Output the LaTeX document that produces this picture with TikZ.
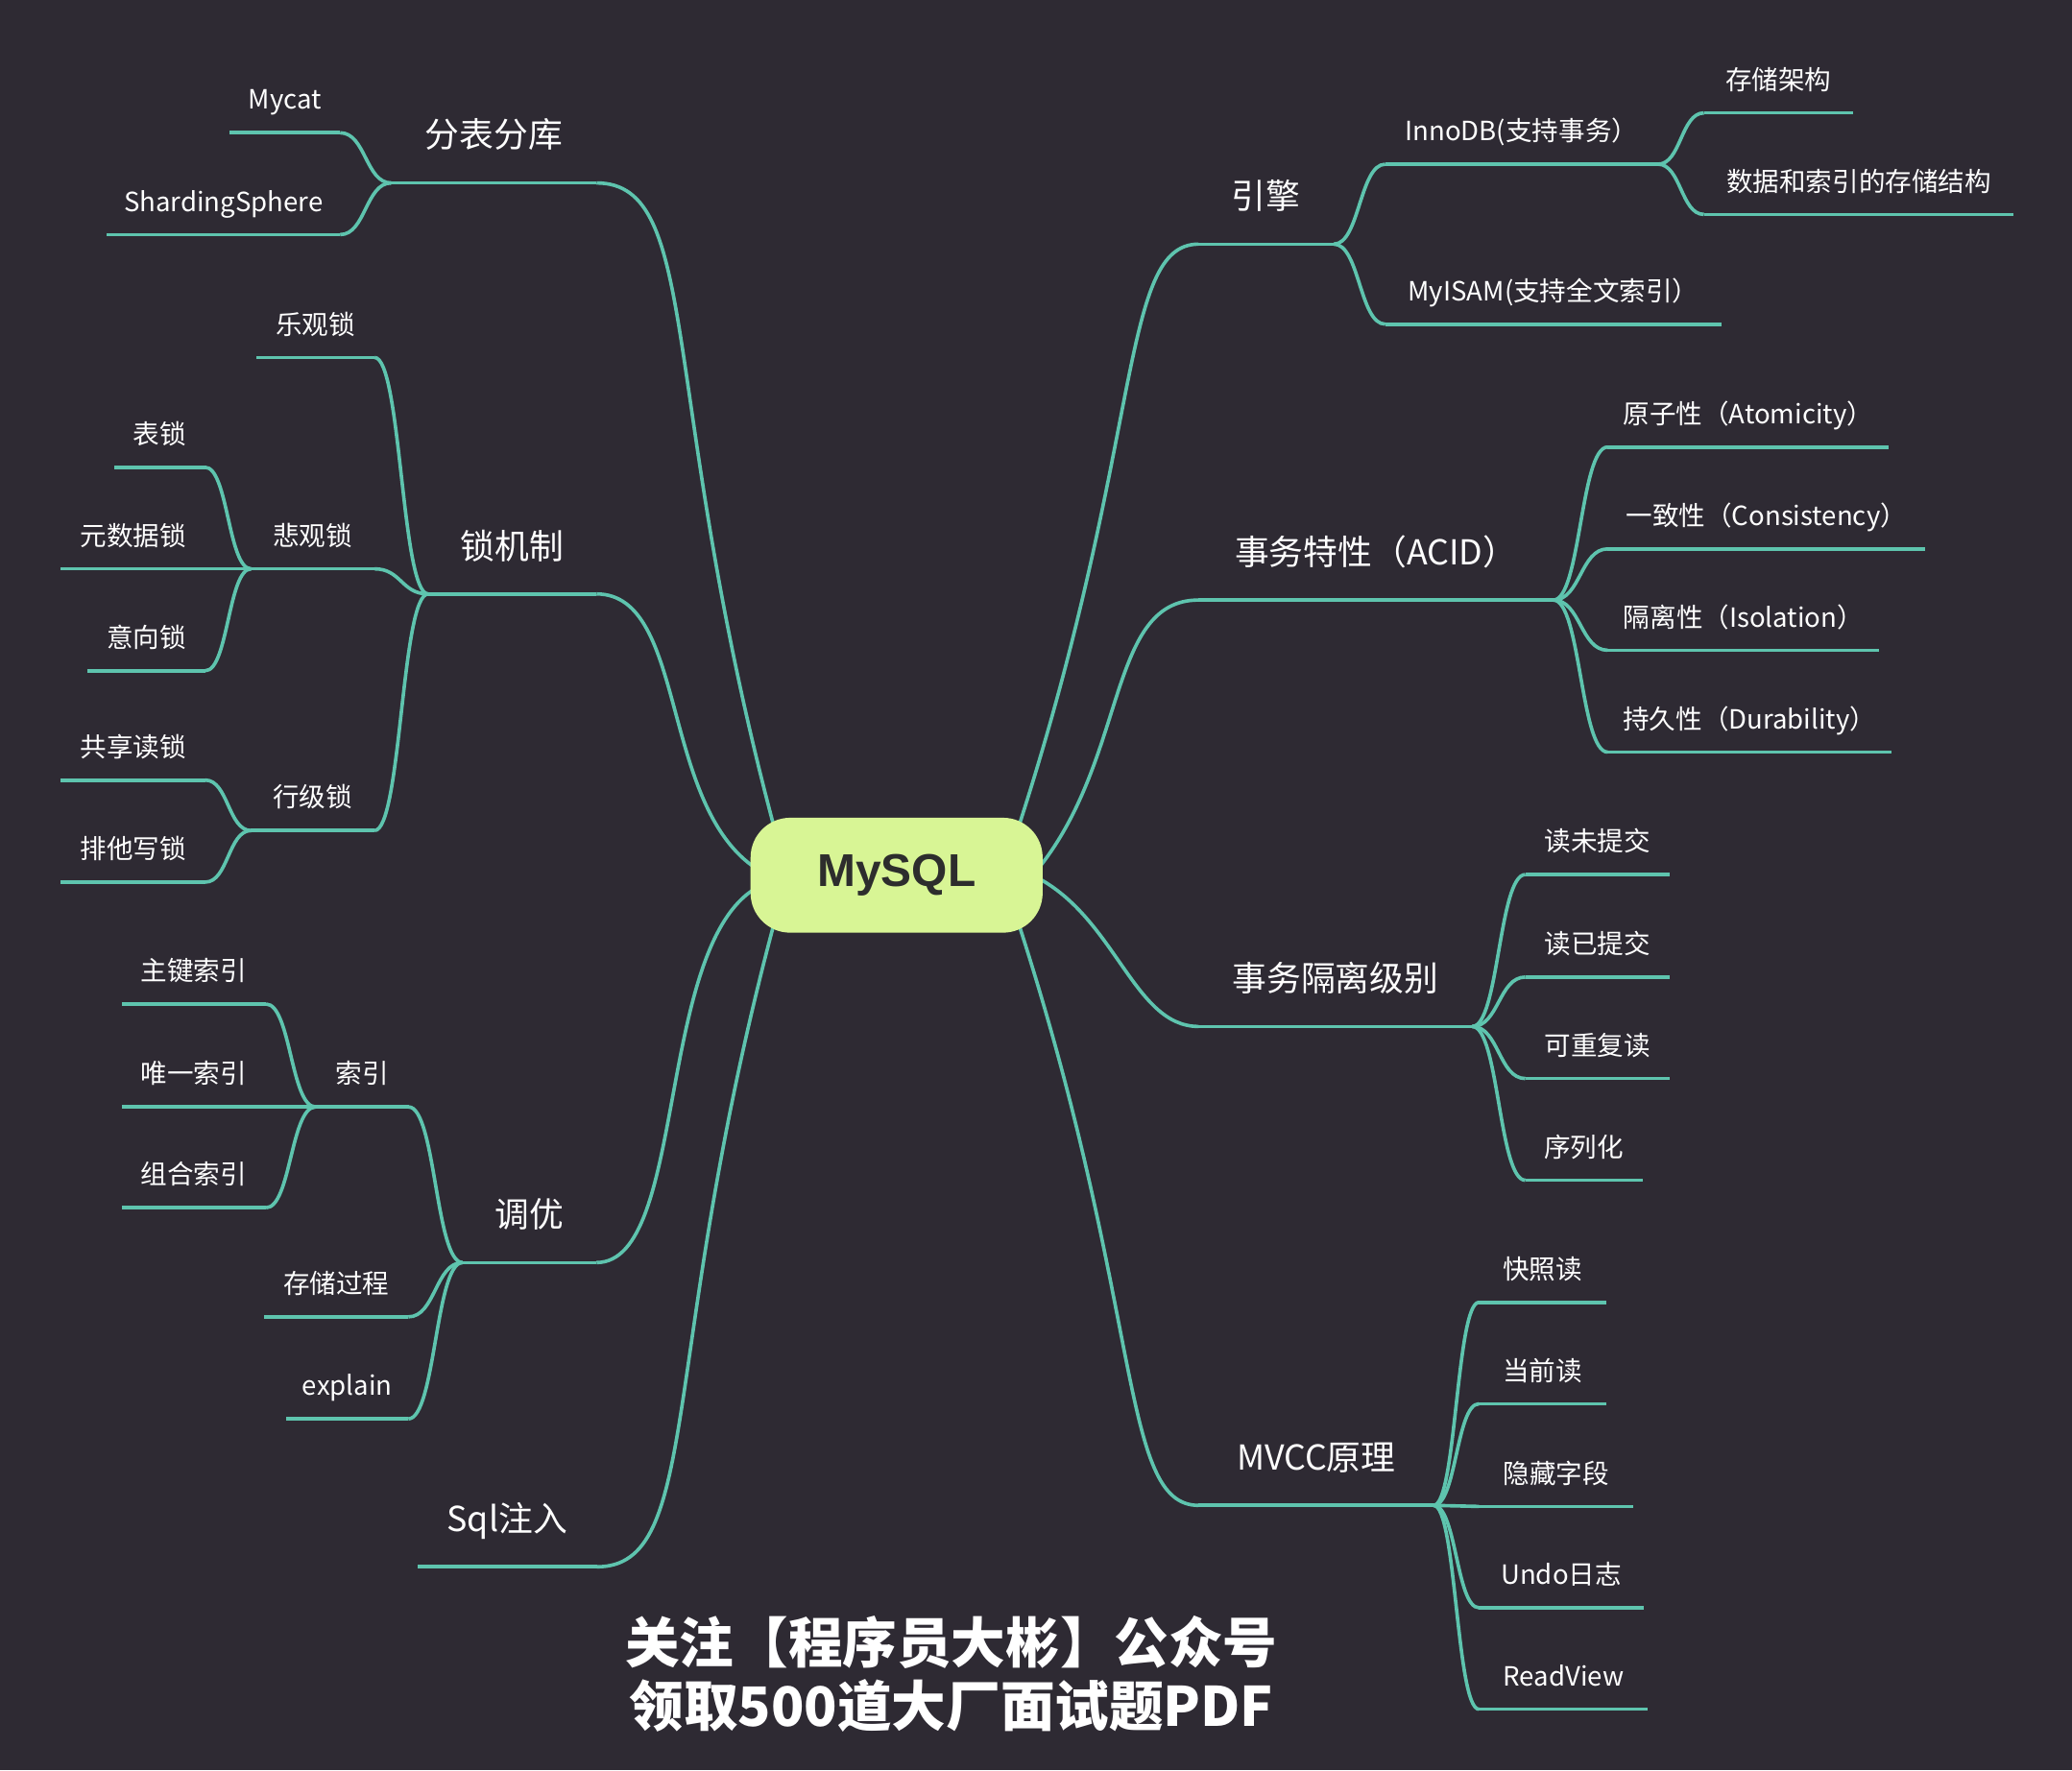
\documentclass[tikz,border=0pt]{standalone}
\usepackage{fontspec}
\usetikzlibrary{calc,backgrounds}
\newfontfamily\cjk{Noto Sans CJK SC}
\newfontfamily\lsans{Liberation Sans}
\definecolor{bgdark}{HTML}{2E2A33}
\definecolor{linkteal}{HTML}{5EC4AE}
\definecolor{rootgreen}{HTML}{D8F595}
\definecolor{roottext}{HTML}{2D2D2D}
\tikzset{
    link/.style={draw=linkteal, line width=0.75pt},
    topic/.style={anchor=south west, inner xsep=0pt, inner ysep=0.26cm, text depth=0pt,
        text=white, font=\cjk\fontsize{7.4}{9}\selectfont},
    leaf/.style={topic, inner ysep=0.17cm, font=\cjk\fontsize{5.7}{7}\selectfont},
}
\begin{document}
\begin{tikzpicture}
    \begin{scope}[on background layer]
        \fill[bgdark] (0,0) rectangle (15.68,-13.40);
    \end{scope}

    \node[fill=rootgreen, rounded corners=0.3cm, minimum width=2.21cm, minimum height=0.87cm,
        inner sep=0pt, text=roottext, font=\lsans\bfseries\fontsize{9.9}{12}\selectfont]
        (mysql) at (6.785,-6.625) {MySQL};

    % left side
    \node[topic, minimum width=1.54cm] (shard) at (2.96,-1.385) {分表分库};
    \node[leaf, minimum width=0.82cm] (mycat) at (1.74,-1.005) {Mycat};
    \node[leaf, minimum width=1.75cm] (sphere) at (0.81,-1.776) {ShardingSphere};

    \node[topic, minimum width=1.26cm] (lock) at (3.24,-4.496) {锁机制};
    \node[leaf, minimum width=0.88cm] (optim) at (1.94,-2.706) {乐观锁};
    \node[leaf, minimum width=0.92cm] (pessim) at (1.90,-4.306) {悲观锁};
    \node[leaf, minimum width=0.92cm] (rowlock) at (1.90,-6.287) {行级锁};
    \node[leaf, minimum width=0.67cm] (tablock) at (0.868,-3.537) {表锁};
    \node[leaf, minimum width=1.08cm] (metalock) at (0.46,-4.306) {元数据锁};
    \node[leaf, minimum width=0.88cm] (intent) at (0.66,-5.077) {意向锁};
    \node[leaf, minimum width=1.08cm] (shared) at (0.46,-5.905) {共享读锁};
    \node[leaf, minimum width=1.08cm] (xlock) at (0.46,-6.677) {排他写锁};

    \node[topic, minimum width=1.00cm] (tune) at (3.50,-9.557) {调优};
    \node[leaf, minimum width=0.69cm] (index) at (2.388,-8.379) {索引};
    \node[leaf, minimum width=1.077cm] (proc) at (1.999,-9.968) {存储过程};
    \node[leaf, minimum width=0.909cm] (explain) at (2.167,-10.74) {explain};
    \node[leaf, minimum width=1.077cm] (pk) at (0.922,-7.60) {主键索引};
    \node[leaf, minimum width=1.077cm] (uniq) at (0.922,-8.379) {唯一索引};
    \node[leaf, minimum width=1.077cm] (combo) at (0.922,-9.142) {组合索引};

    \node[topic, minimum width=1.343cm] (sql) at (3.16,-11.86) {Sql注入};

    % right side
    \node[topic, minimum width=1.01cm] (engine) at (9.07,-1.848) {引擎};
    \node[leaf, minimum width=2.05cm] (innodb) at (10.483,-1.243) {InnoDB(支持事务）};
    \node[leaf, minimum width=2.532cm] (myisam) at (10.483,-2.454) {MyISAM(支持全文索引）};
    \node[leaf, minimum width=1.116cm] (arch) at (12.894,-0.855) {存储架构};
    \node[leaf, minimum width=2.332cm] (struct) at (12.894,-1.623) {数据和索引的存储结构};

    \node[topic, minimum width=2.671cm] (acid) at (9.07,-4.542) {事务特性（ACID）};
    \node[leaf, minimum width=2.114cm] (atom) at (12.166,-3.384) {原子性（Atomicity）};
    \node[leaf, minimum width=2.391cm] (consist) at (12.166,-4.155) {一致性（Consistency）};
    \node[leaf, minimum width=2.042cm] (isol) at (12.166,-4.922) {隔离性（Isolation）};
    \node[leaf, minimum width=2.134cm] (durab) at (12.166,-5.693) {持久性（Durability）};

    \node[topic, minimum width=2.057cm] (iso) at (9.07,-7.77) {事务隔离级别};
    \node[leaf, minimum width=1.078cm] (ru) at (11.543,-6.62) {读未提交};
    \node[leaf, minimum width=1.078cm] (rc) at (11.543,-7.396) {读已提交};
    \node[leaf, minimum width=1.078cm] (rr) at (11.543,-8.164) {可重复读};
    \node[leaf, minimum width=0.872cm] (ser) at (11.543,-8.934) {序列化};

    \node[topic, minimum width=1.765cm] (mvcc) at (9.07,-11.395) {MVCC原理};
    \node[leaf, minimum width=0.948cm] (snap) at (11.192,-9.858) {快照读};
    \node[leaf, minimum width=0.948cm] (curr) at (11.192,-10.626) {当前读};
    \node[leaf, minimum width=1.152cm] (hidden) at (11.192,-11.403) {隐藏字段};
    \node[leaf, minimum width=1.232cm] (undo) at (11.192,-12.17) {Undo日志};
    \node[leaf, minimum width=1.264cm] (rview) at (11.192,-12.938) {ReadView};

    \node[align=center, inner sep=0pt, text=white,
        font=\cjk\bfseries\fontsize{11.7}{13.7}\selectfont]
        (promo) at (7.20,-12.67) {关注【程序员大彬】公众号\\领取500道大厂面试题PDF};

    \foreach \n in {shard, mycat, sphere, lock, optim, pessim, rowlock, tablock, metalock,
        intent, shared, xlock, tune, index, proc, explain, pk, uniq, combo, sql,
        engine, innodb, myisam, arch, struct, acid, atom, consist, isol, durab,
        iso, ru, rc, rr, ser, mvcc, snap, curr, hidden, undo, rview}
        \draw[link] (\n.south west) -- (\n.south east);

    \foreach \a/\b in {shard/mycat, shard/sphere, lock/optim, lock/pessim, lock/rowlock,
        pessim/tablock, pessim/metalock, pessim/intent, rowlock/shared, rowlock/xlock,
        tune/index, tune/proc, tune/explain, index/pk, index/uniq, index/combo}
        \draw[link] let \p1=(\a.south west), \p2=(\b.south east) in
            (\p1) .. controls ({(\x1+\x2)/2},\y1) and ({(\x1+\x2)/2},\y2) .. (\p2);

    \foreach \a/\b in {engine/innodb, engine/myisam, innodb/arch, innodb/struct,
        acid/atom, acid/consist, acid/isol, acid/durab, iso/ru, iso/rc, iso/rr, iso/ser,
        mvcc/snap, mvcc/curr, mvcc/hidden, mvcc/undo, mvcc/rview}
        \draw[link] let \p1=(\a.south east), \p2=(\b.south west) in
            (\p1) .. controls ({(\x1+\x2)/2},\y1) and ({(\x1+\x2)/2},\y2) .. (\p2);

    \begin{scope}[on background layer, shorten <=-3pt]
        \draw[link] (mysql.25) .. controls +(72:3) and +(-0.6,0) .. (engine.south west);
        \draw[link] (mysql.5.4) .. controls +(50:1) and +(-0.7,0) .. (acid.south west);
        \draw[link] (mysql.-2.3) .. controls +(-25:0.6) and +(-0.5,0) .. (iso.south west);
        \draw[link] (mysql.-25) .. controls +(-72:3) and +(-0.6,0) .. (mvcc.south west);
        \draw[link] (mysql.155) .. controls +(105:3.3) and +(0.8,0) .. (shard.south east);
        \draw[link] (mysql.176) .. controls +(150:0.8) and +(0.7,0) .. (lock.south east);
        \draw[link] (mysql.186) .. controls +(205:0.8) and +(0.7,0) .. (tune.south east);
        \draw[link] (mysql.205) .. controls +(255:3.3) and +(0.8,0) .. (sql.south east);
    \end{scope}
\end{tikzpicture}
\end{document}
